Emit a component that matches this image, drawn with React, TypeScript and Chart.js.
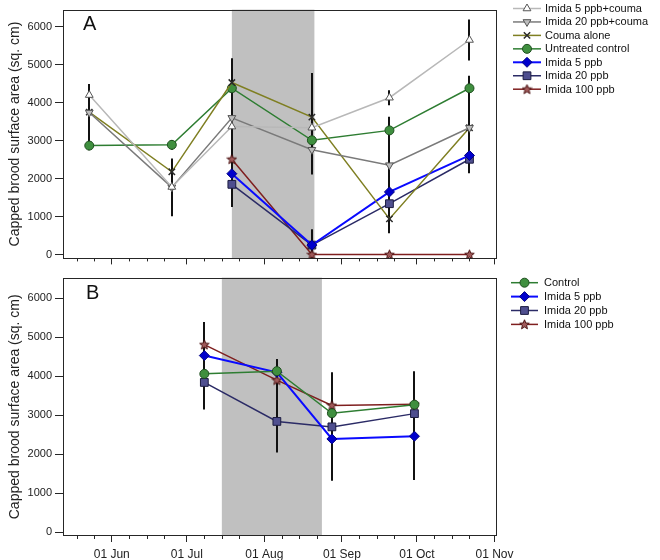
import React, { useEffect, useRef } from "react";
import { Chart, registerables } from "chart.js";
import { drawPoint } from "chart.js/helpers";

Chart.register(...registerables);

// ---------------- data ----------------
const FONT = '"Liberation Sans", Arial, Helvetica, sans-serif';

const axisStart = "05-13";
const axisEnd = "11-01";
const monthTicks = ["06-01", "07-01", "08-01", "09-01", "10-01", "11-01"];
const monthLabels = ["01 Jun", "01 Jul", "01 Aug", "01 Sep", "01 Oct", "01 Nov"];
const yTicks = [0, 1000, 2000, 3000, 4000, 5000, 6000];
const yTitle = "Capped brood surface area (sq. cm)";

// Panel A
const datesA = ["05-23", "06-25", "07-19", "08-20", "09-20", "10-22"];
const shadeA = ["07-19", "08-21"];
const couma5A = [4200, 1780, 3370, 3340, 4130, 5650];
const couma5ErrA = [250, 0, 0, 0, 200, 540];
const couma20A = [3740, 1770, 3600, 2760, 2355, 3340];
const couma20ErrA = [750, 760, 800, 650, 800, 800];
const coumaAloneA = [3750, 2180, 4530, 3620, 940, 3340];
const coumaAloneErrA = [0, 0, 640, 1160, 380, 0];
const controlA = [2870, 2890, 4380, 3010, 3270, 4380];
const controlErrA = [120, 130, 500, 0, 360, 330];
const imida5A = [null, null, 2130, 250, 1650, 2610];
const imida5ErrA = [0, 0, 0, 0, 400, 0];
const imida20A = [null, null, 1850, 250, 1340, 2510];
const imida20ErrA = [0, 0, 600, 420, 500, 370];
const imida100A = [null, null, 2510, 0, 0, 0];
const imida100ErrA = [0, 0, 700, 0, 0, 0];

// Panel B
const datesB = ["07-08", "08-06", "08-28", "09-30"];
const shadeB = ["07-15", "08-24"];
const controlB = [4060, 4130, 3050, 3270];
const controlErrB = [0, 0, 0, 860];
const imida5B = [4530, 4100, 2390, 2460];
const imida5ErrB = [0, 340, 1070, 1120];
const imida20B = [3840, 2840, 2700, 3040];
const imida20ErrB = [695, 800, 0, 0];
const imida100B = [4810, 3900, 3250, 3280];
const imida100ErrB = [580, 300, 850, 0];

// ---------------- helpers ----------------
function dayOf(md: string): number {
  const [m, d] = md.split("-").map(Number);
  return Math.round((Date.UTC(2012, m - 1, d) - Date.UTC(2012, 5, 1)) / 86400000);
}

let starCache: Record<string, HTMLCanvasElement> = {};
function starImage(fill: string, stroke: string): HTMLCanvasElement {
  const key = fill + stroke;
  if (starCache[key]) return starCache[key];
  const c = document.createElement("canvas");
  c.width = 11;
  c.height = 11;
  const g = c.getContext("2d")!;
  const cx = 5.5, cy = 5.8, R = 5, r = 2.2;
  g.beginPath();
  for (let i = 0; i < 10; i++) {
    const a = -Math.PI / 2 + (i * Math.PI) / 5;
    const rr = i % 2 === 0 ? R : r;
    const px = cx + rr * Math.cos(a);
    const py = cy + rr * Math.sin(a);
    if (i === 0) g.moveTo(px, py);
    else g.lineTo(px, py);
  }
  g.closePath();
  g.fillStyle = fill;
  g.fill();
  g.lineWidth = 1;
  g.strokeStyle = stroke;
  g.stroke();
  starCache[key] = c;
  return c;
}

type Style = {
  borderColor: string;
  borderWidth: number;
  pointStyle: any;
  pointRadius: number;
  pointRotation?: number;
  pointBackgroundColor: string;
  pointBorderColor: string;
  pointBorderWidth: number;
};

const styles: Record<string, () => Style> = {
  couma5: () => ({
    borderColor: "#b8b8b8", borderWidth: 1.5, pointStyle: "triangle", pointRadius: 4.5,
    pointRotation: 0, pointBackgroundColor: "#ffffff", pointBorderColor: "#555555", pointBorderWidth: 1,
  }),
  couma20: () => ({
    borderColor: "#7a7a7a", borderWidth: 1.5, pointStyle: "triangle", pointRadius: 4.5,
    pointRotation: 180, pointBackgroundColor: "#bdbdbd", pointBorderColor: "#555555", pointBorderWidth: 1,
  }),
  coumaAlone: () => ({
    borderColor: "#7f7f22", borderWidth: 1.5, pointStyle: "crossRot", pointRadius: 4.5,
    pointRotation: 0, pointBackgroundColor: "#333333", pointBorderColor: "#2a2a2a", pointBorderWidth: 1.5,
  }),
  control: () => ({
    borderColor: "#2e7d32", borderWidth: 1.5, pointStyle: "circle", pointRadius: 4.5,
    pointRotation: 0, pointBackgroundColor: "#3f8f3f", pointBorderColor: "#1f4f1f", pointBorderWidth: 1,
  }),
  imida5: () => ({
    borderColor: "#0a0aff", borderWidth: 2, pointStyle: "rectRot", pointRadius: 5,
    pointRotation: 0, pointBackgroundColor: "#0000cc", pointBorderColor: "#000080", pointBorderWidth: 1,
  }),
  imida20: () => ({
    borderColor: "#2b2b66", borderWidth: 1.5, pointStyle: "rect", pointRadius: 5.5,
    pointRotation: 0, pointBackgroundColor: "#4f4f8f", pointBorderColor: "#1c1c40", pointBorderWidth: 1,
  }),
  imida100: () => ({
    borderColor: "#7f1f1f", borderWidth: 1.5, pointStyle: starImage("#a05a5a", "#4a1010"), pointRadius: 5,
    pointRotation: 0, pointBackgroundColor: "#a05a5a", pointBorderColor: "#4a1010", pointBorderWidth: 1,
  }),
};

function makeDataset(label: string, dates: string[], values: (number | null)[], errs: number[], styleKey: string) {
  const data: { x: number; y: number }[] = [];
  const errors: number[] = [];
  values.forEach((v, i) => {
    if (v === null || v === undefined) return;
    data.push({ x: dayOf(dates[i]), y: v });
    errors.push(errs[i]);
  });
  return { label, data, errors, tension: 0, ...styles[styleKey]() } as any;
}

type PanelCfg = {
  datasets: any[];
  shade: string[];
  letter: string;
  letterX: number;
  letterY: number;
  height: number;
  plotTop: number;
  plotBottom: number;
  yMax: number;
  showLabels: boolean;
  legendLineX0: number;
  legendLineX1: number;
  legendTextX: number;
  legendY0: number;
  legendStep: number;
};

function buildChart(canvas: HTMLCanvasElement, cfg: PanelCfg) {
  const plotLeft = 63;
  const plotRight = 497;

  const decorPlugin = {
    id: "decor",
    beforeDatasetsDraw(chart: any) {
      const { ctx, chartArea } = chart;
      const xs = chart.scales.x;
      const ys = chart.scales.y;
      ctx.save();
      // shaded period
      const x1 = xs.getPixelForValue(dayOf(cfg.shade[0]));
      const x2 = xs.getPixelForValue(dayOf(cfg.shade[1]));
      ctx.fillStyle = "#c0c0c0";
      ctx.fillRect(x1, chartArea.top, x2 - x1, chartArea.bottom - chartArea.top);
      // error bars
      ctx.strokeStyle = "#111111";
      ctx.lineWidth = 2;
      chart.data.datasets.forEach((ds: any, di: number) => {
        const meta = chart.getDatasetMeta(di);
        ds.data.forEach((p: any, i: number) => {
          const e = ds.errors[i];
          if (!e) return;
          const x = Math.round(meta.data[i].x);
          const yTop = ys.getPixelForValue(p.y + e);
          const yBot = ys.getPixelForValue(Math.max(p.y - e, ys.min));
          ctx.beginPath();
          ctx.moveTo(x, yTop);
          ctx.lineTo(x, yBot);
          ctx.stroke();
        });
      });
      ctx.restore();
    },
    afterDraw(chart: any) {
      const { ctx, chartArea } = chart;
      const xs = chart.scales.x;
      ctx.save();
      // frame
      ctx.strokeStyle = "#262626";
      ctx.lineWidth = 1;
      ctx.strokeRect(
        Math.round(chartArea.left) + 0.5,
        Math.round(chartArea.top) + 0.5,
        Math.round(chartArea.right - chartArea.left) - 1,
        Math.round(chartArea.bottom - chartArea.top) - 1
      );
      // minor ticks (weekly)
      const minor: number[] = [];
      const first = dayOf(monthTicks[0]);
      minor.push(first - 7, first - 14);
      monthTicks.slice(0, -1).forEach((m) => {
        const d = dayOf(m);
        minor.push(d + 7, d + 14, d + 21);
      });
      ctx.beginPath();
      minor.forEach((d) => {
        if (d < xs.min || d > xs.max) return;
        const x = Math.round(xs.getPixelForValue(d)) + 0.5;
        ctx.moveTo(x, chartArea.bottom);
        ctx.lineTo(x, chartArea.bottom + 3);
      });
      ctx.stroke();
      // panel letter
      ctx.fillStyle = "#111111";
      ctx.font = `20px ${FONT}`;
      ctx.textBaseline = "alphabetic";
      ctx.textAlign = "left";
      ctx.fillText(cfg.letter, cfg.letterX, cfg.letterY);
      // legend
      ctx.font = `11px ${FONT}`;
      ctx.textBaseline = "middle";
      chart.data.datasets.forEach((ds: any, i: number) => {
        const y = cfg.legendY0 + i * cfg.legendStep;
        ctx.strokeStyle = ds.borderColor;
        ctx.lineWidth = ds.borderWidth;
        ctx.beginPath();
        ctx.moveTo(cfg.legendLineX0, y);
        ctx.lineTo(cfg.legendLineX1, y);
        ctx.stroke();
        ctx.fillStyle = ds.pointBackgroundColor;
        ctx.strokeStyle = ds.pointBorderColor;
        ctx.lineWidth = ds.pointBorderWidth;
        drawPoint(
          ctx,
          {
            pointStyle: ds.pointStyle,
            rotation: ds.pointRotation || 0,
            radius: ds.pointRadius,
            borderWidth: ds.pointBorderWidth,
          } as any,
          (cfg.legendLineX0 + cfg.legendLineX1) / 2,
          y
        );
        ctx.fillStyle = "#111111";
        ctx.fillText(ds.label, cfg.legendTextX, y + 0.5);
      });
      ctx.restore();
    },
  };

  return new Chart(canvas, {
    type: "line",
    data: { datasets: cfg.datasets },
    options: {
      responsive: false,
      animation: false,
      events: [],
      layout: {
        padding: { left: 0, right: 660 - plotRight, top: cfg.plotTop, bottom: 0 },
      },
      plugins: {
        legend: { display: false },
        tooltip: { enabled: false },
      },
      scales: {
        x: {
          type: "linear",
          min: dayOf(axisStart) - 0.5,
          max: dayOf(axisEnd) + 1,
          afterFit: (s: any) => {
            s.height = cfg.height - cfg.plotBottom;
          },
          afterBuildTicks: (s: any) => {
            s.ticks = monthTicks.map((m) => ({ value: dayOf(m) }));
          },
          grid: {
            display: true,
            drawOnChartArea: false,
            drawTicks: true,
            tickLength: 6,
            tickColor: "#262626",
            tickWidth: 1,
          },
          border: { display: false },
          ticks: {
            display: cfg.showLabels,
            autoSkip: false,
            maxRotation: 0,
            padding: 5,
            color: "#222222",
            font: { family: FONT, size: 12 },
            callback: (_v: any, i: number) => monthLabels[i],
          },
        },
        y: {
          type: "linear",
          min: -100,
          max: cfg.yMax,
          afterFit: (s: any) => {
            s.width = plotLeft;
          },
          afterBuildTicks: (s: any) => {
            s.ticks = yTicks.map((v) => ({ value: v }));
          },
          grid: {
            display: true,
            drawOnChartArea: false,
            drawTicks: true,
            tickLength: 8,
            tickColor: "#262626",
            tickWidth: 1,
          },
          border: { display: false },
          ticks: {
            padding: 3,
            color: "#222222",
            font: { family: FONT, size: 11 },
            callback: (v: any) => String(v),
          },
          title: {
            display: true,
            text: yTitle,
            color: "#222222",
            font: { family: FONT, size: 14 },
            padding: { top: 7, bottom: 0 },
          },
        },
      },
    } as any,
    plugins: [decorPlugin],
  });
}

export default function App() {
  const refA = useRef<HTMLCanvasElement>(null);
  const refB = useRef<HTMLCanvasElement>(null);

  useEffect(() => {
    document.body.style.margin = "0";
    const dsA = [
      makeDataset("Imida 5 ppb+couma", datesA, couma5A, couma5ErrA, "couma5"),
      makeDataset("Imida 20 ppb+couma", datesA, couma20A, couma20ErrA, "couma20"),
      makeDataset("Couma alone", datesA, coumaAloneA, coumaAloneErrA, "coumaAlone"),
      makeDataset("Untreated control", datesA, controlA, controlErrA, "control"),
      makeDataset("Imida 5 ppb", datesA, imida5A, imida5ErrA, "imida5"),
      makeDataset("Imida 20 ppb", datesA, imida20A, imida20ErrA, "imida20"),
      makeDataset("Imida 100 ppb", datesA, imida100A, imida100ErrA, "imida100"),
    ];
    const dsB = [
      makeDataset("Control", datesB, controlB, controlErrB, "control"),
      makeDataset("Imida 5 ppb", datesB, imida5B, imida5ErrB, "imida5"),
      makeDataset("Imida 20 ppb", datesB, imida20B, imida20ErrB, "imida20"),
      makeDataset("Imida 100 ppb", datesB, imida100B, imida100ErrB, "imida100"),
    ];
    const a = buildChart(refA.current!, {
      datasets: dsA,
      shade: shadeA,
      letter: "A",
      letterX: 83,
      letterY: 30,
      height: 268,
      plotTop: 1,
      plotBottom: 260,
      yMax: 6450,
      showLabels: false,
      legendLineX0: 513,
      legendLineX1: 541,
      legendTextX: 545,
      legendY0: 8.5,
      legendStep: 13.45,
    });
    const b = buildChart(refB.current!, {
      datasets: dsB,
      shade: shadeB,
      letter: "B",
      letterX: 86,
      letterY: 31,
      height: 292,
      plotTop: 7,
      plotBottom: 268,
      yMax: 6530,
      showLabels: true,
      legendLineX0: 511,
      legendLineX1: 538,
      legendTextX: 544,
      legendY0: 14.7,
      legendStep: 13.9,
    });
    return () => {
      a.destroy();
      b.destroy();
    };
  }, []);

  return (
    <div style={{ position: "relative", width: 660, height: 560, background: "#ffffff", overflow: "hidden" }}>
      <canvas ref={refA} width={660} height={268} style={{ position: "absolute", left: 0, top: 0 }} />
      <canvas ref={refB} width={660} height={292} style={{ position: "absolute", left: 0, top: 268 }} />
    </div>
  );
}
